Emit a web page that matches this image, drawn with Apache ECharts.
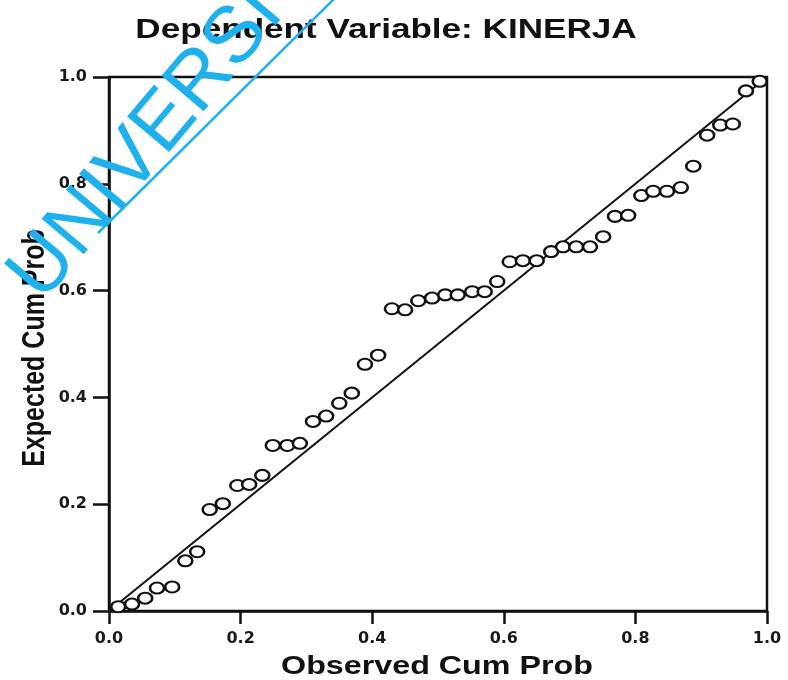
<!DOCTYPE html>
<html>
<head>
<meta charset="utf-8">
<script src="https://cdn.jsdelivr.net/npm/echarts@6/dist/echarts.min.js"></script>
<style>html,body{margin:0;padding:0;background:#fff}#c{width:788px;height:680px}</style>
</head>
<body>
<div id="c"></div>
<script>
var chartTitle = 'Dependent Variable: KINERJA';
var xName = 'Observed Cum Prob';
var yName = 'Expected Cum Prob';
var observed = [0.014,0.035,0.055,0.073,0.096,0.116,0.134,0.153,0.173,0.195,0.213,0.233,0.249,0.271,0.290,0.310,0.330,0.350,0.369,0.389,0.409,0.430,0.450,0.470,0.491,0.511,0.530,0.552,0.571,0.590,0.609,0.629,0.650,0.672,0.690,0.710,0.731,0.751,0.769,0.789,0.809,0.827,0.848,0.869,0.888,0.909,0.929,0.948,0.968,0.989];
var expected = [0.008,0.013,0.024,0.043,0.045,0.094,0.111,0.190,0.201,0.235,0.237,0.254,0.310,0.310,0.314,0.355,0.365,0.389,0.408,0.462,0.479,0.566,0.564,0.581,0.586,0.592,0.592,0.598,0.598,0.617,0.654,0.656,0.656,0.673,0.682,0.682,0.682,0.701,0.739,0.741,0.778,0.786,0.786,0.793,0.833,0.891,0.910,0.912,0.974,0.992];
var refLine = [[0,0],[1,1]];
var watermark = 'UNIVERSITAS';

var pts = observed.map(function(v,i){return [v, expected[i]];});
var chart = echarts.init(document.getElementById('c'));
var font = '"Liberation Sans", Arial, sans-serif';
var labFont = '"DejaVu Sans", sans-serif';
function axisOpts(tickLen, margin){
  return {
    type:'value', min:0, max:1, interval:0.2,
    axisLine:{show:true, lineStyle:{color:'#111', width:2.5}},
    axisTick:{show:true, inside:false, length:tickLen, lineStyle:{color:'#111', width:2.5}},
    splitLine:{show:false},
    axisLabel:{formatter:function(v){return v.toFixed(1);}, color:'#1a1a1a', fontSize:16, fontWeight:'bold', fontFamily:labFont, margin:margin}
  };
}
chart.setOption({
  backgroundColor:'#fff',
  animation:false,
  grid:{left:109, right:21, top:77, bottom:69, show:true, borderColor:'#111', borderWidth:2.5, backgroundColor:'transparent'},
  xAxis:axisOpts(13, 20),
  yAxis:axisOpts(16, 22),
  series:[
    {type:'line', data:refLine, symbol:'none', lineStyle:{color:'#111', width:2}, z:2},
    {type:'scatter', data:pts, symbol:'circle', symbolSize:[14,11], itemStyle:{color:'#fff', borderColor:'#111', borderWidth:2.3, opacity:1}, z:3}
  ],
  graphic:[
    {type:'text', x:386, y:31, scaleX:1.3, z:50, silent:true,
     style:{text:chartTitle, fill:'#111', font:'bold 27px ' + font, textAlign:'center', textVerticalAlign:'middle'}},
    {type:'text', x:437, y:667, scaleX:1.29, z:50, silent:true,
     style:{text:xName, fill:'#111', font:'bold 25px ' + font, textAlign:'center', textVerticalAlign:'middle'}},
    {type:'text', x:35, y:348, rotation:Math.PI/2, scaleY:1.25, z:50, silent:true,
     style:{text:yName, fill:'#111', font:'bold 25px ' + font, textAlign:'center', textVerticalAlign:'middle'}},
    {type:'text', x:56, y:315, rotation:Math.PI*50/180, z:100, silent:true,
     style:{text:watermark, fill:'#1fb1ee', font:'normal 80px "Liberation Sans", Arial, sans-serif', textAlign:'left', textVerticalAlign:'bottom'}},
    {type:'line', z:100, silent:true, shape:{x1:98, y1:233, x2:335, y2:-2}, style:{stroke:'#1fb1ee', lineWidth:2.5}}
  ]
});
</script>
</body>
</html>
